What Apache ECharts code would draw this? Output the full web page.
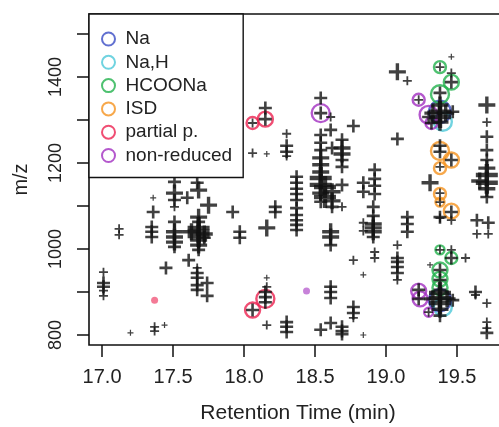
<!DOCTYPE html>
<html>
<head>
<meta charset="utf-8">
<script src="https://cdn.jsdelivr.net/npm/echarts@6/dist/echarts.min.js"></script>
<style>
  html, body { margin: 0; padding: 0; background: #fff; }
  #main { width: 499px; height: 427px; }
</style>
</head>
<body>
<div id="main"></div>
<script>
// retention time (min), m/z, intensity level (1 = weakest .. 5 = strongest)
var crosses = [
  [17.01,946,2],[17.01,921,3],[17.01,912,3],[17.01,903,2],[17.01,891,2],
  [17.12,1047,2],[17.12,1033,2],[17.20,805,1],
  [17.36,1119,1],[17.36,1086,3],[17.35,1051,3],[17.35,1040,3],[17.35,1028,3],
  [17.37,819,2],[17.37,809,2],[17.44,823,1],[17.45,956,3],
  [17.51,1156,3],[17.51,1130,4],[17.51,1114,3],[17.51,1098,2],[17.51,1063,3],
  [17.51,1040,4],[17.51,1028,4],[17.51,1016,4],[17.51,1005,3],
  [17.60,1119,3],[17.61,974,3],[17.67,1154,3],[17.68,1137,4],[17.75,1102,4],
  [17.68,1074,4],[17.68,1063,3],[17.68,1049,5],[17.68,1040,5],[17.68,1030,5],
  [17.68,1021,4],[17.68,1009,4],[17.68,998,3],[17.63,1040,4],[17.72,1035,4],[17.72,1026,3],
  [17.67,956,2],[17.67,944,3],[17.67,933,3],[17.67,916,3],[17.67,905,3],[17.74,921,3],[17.74,891,3],
  [17.92,1086,3],[17.97,1040,3],[17.97,1026,3],
  [18.06,1293,2],[18.15,1302,3],[18.15,1328,3],[18.06,1223,2],[18.16,1221,1],
  [18.30,1268,2],[18.30,1240,3],[18.30,1226,3],[18.30,1216,2],
  [18.16,1049,4],[18.22,1098,3],[18.22,1086,3],
  [18.16,933,1],[18.16,912,2],[18.15,900,3],[18.15,888,3],[18.15,876,3],[18.06,858,3],[18.16,823,2],
  [18.30,830,3],[18.30,819,3],[18.30,807,3],
  [18.37,1168,3],[18.37,1154,3],[18.37,1140,3],[18.37,1128,3],[18.37,1114,3],
  [18.37,1095,3],[18.37,1079,3],[18.37,1067,3],[18.37,1056,3],[18.37,1044,3],
  [18.54,1351,3],[18.54,1316,3],[18.54,1265,3],[18.54,1247,3],[18.54,1230,3],[18.54,1212,4],
  [18.54,1196,4],[18.54,1179,4],[18.54,1165,5],[18.54,1149,5],[18.54,1130,4],[18.54,1110,3],
  [18.61,1307,2],[18.61,1277,3],[18.77,1286,3],[18.62,1235,3],
  [18.69,1254,3],[18.69,1235,4],[18.69,1221,4],[18.69,1207,3],[18.69,1191,3],
  [18.57,1144,5],[18.57,1121,5],[18.62,1133,4],[18.62,1112,4],[18.62,1098,3],[18.69,1149,3],[18.69,1098,2],
  [18.84,1154,3],[18.84,1133,3],[18.92,1184,3],[18.92,1163,3],[18.92,1147,3],[18.92,1128,3],
  [18.61,1040,4],[18.61,1028,4],[18.61,1009,3],
  [18.91,1098,3],[18.91,1077,3],[18.91,1058,4],[18.91,1049,4],[18.91,1040,4],[18.91,1028,3],
  [18.84,1061,2],[18.84,1042,2],[18.77,974,2],[18.84,940,1],[18.92,993,2],[18.92,979,2],
  [18.61,912,3],[18.61,900,3],[18.61,886,3],[18.77,865,3],[18.77,851,3],[18.77,840,2],
  [18.54,812,3],[18.61,828,3],[18.69,819,3],[18.69,809,3],[18.69,802,3],[18.84,800,1],
  [19.08,1412,4],[19.15,1391,2],[19.08,1256,3],
  [19.15,1074,3],[19.15,1058,3],[19.15,1040,3],
  [19.08,1009,2],[19.08,979,3],[19.08,970,3],[19.08,958,3],[19.08,944,3],[19.08,928,2],
  [19.31,1154,4],[19.38,1074,3],
  [19.46,1447,1],[19.46,1409,2],[19.46,1388,3],[19.38,1423,2],[19.38,1363,3],[19.23,1347,2],
  [19.38,1335,4],[19.38,1319,5],[19.38,1307,5],[19.38,1295,4],[19.33,1316,4],[19.42,1316,4],
  [19.47,1319,3],[19.30,1307,3],[19.32,1293,3],
  [19.38,1240,3],[19.38,1226,3],[19.46,1207,3],[19.38,1191,2],[19.38,1130,2],[19.38,1109,2],
  [19.46,1086,3],[19.46,1067,2],[19.38,1072,2],
  [19.38,998,2],[19.46,998,2],[19.46,979,3],[19.56,979,2],[19.31,963,1],
  [19.38,951,3],[19.38,928,3],[19.38,905,3],[19.23,905,3],[19.23,884,3],[19.30,853,2],
  [19.38,898,5],[19.38,886,5],[19.38,874,5],[19.38,860,4],[19.33,884,4],[19.43,884,4],
  [19.47,881,3],[19.38,845,3],
  [19.63,900,3],[19.63,893,2],[19.71,874,2],[19.71,830,2],[19.71,816,2],[19.71,805,3],
  [19.71,1335,4],[19.71,1295,2],[19.71,1261,3],[19.71,1230,3],[19.71,1207,3],[19.71,1188,4],
  [19.71,1172,5],[19.71,1154,5],[19.71,1140,4],[19.71,1121,3],[19.66,1158,4],
  [19.64,1067,3],[19.64,1035,2],[19.72,1061,3],[19.72,1035,2]
];

// annotated peaks: retention time, m/z, intensity level
var naPeaks = [[19.38,1319,5],[19.38,881,5]];
var naHPeaks = [[19.40,1296,4],[19.40,865,4]];
var hcoonaPeaks = [[19.38,1423,2],[19.46,1388,3],[19.38,1360,4],[19.38,998,1],
  [19.46,979,2],[19.38,951,3],[19.38,930,3],[19.38,910,3]];
var isdPeaks = [[19.38,1228,4],[19.46,1207,3],[19.38,1188,2],[19.38,1128,2],[19.38,1109,1],[19.46,1088,3]];
var partialPeaks = [[18.06,1293,2],[18.15,1302,3],[18.06,858,3],[18.15,884,4]];
var partialWeak = [[17.37,881]];
var nonReducedPeaks = [[18.54,1316,4],[19.23,1347,2],[19.30,1312,4],[19.32,1293,2],
  [19.23,902,3],[19.24,884,3],[19.30,853,1]];
var nonReducedWeak = [[18.44,902]];

var xTicks = [17.0, 17.5, 18.0, 18.5, 19.0, 19.5];
var yTicks = [800, 900, 1000, 1100, 1200, 1300, 1400, 1500];
var yLabels = [800, 1000, 1200, 1400];

var crossSizes = [0, 6, 9, 13, 17, 22];
var ringSizes = [0, 9, 12, 15, 18, 22];
var plus = 'path://M4,0H6V4H10V6H6V10H4V6H0V4H4Z';
var font = 'Liberation Sans, Arial, sans-serif';

function ringSeries(name, color, peaks, weak) {
  var data = peaks.map(function (p) { return [p[0], p[1], p[2]]; });
  (weak || []).forEach(function (p) {
    data.push({
      value: [p[0], p[1], 0],
      symbolSize: 7,
      itemStyle: { color: color, opacity: 0.6, borderWidth: 0 }
    });
  });
  return {
    name: name,
    type: 'scatter',
    symbol: 'circle',
    symbolSize: function (v) { return ringSizes[v[2]] || 7; },
    itemStyle: { color: 'rgba(255,255,255,0)', borderColor: color, borderWidth: 2.4 },
    data: data,
    z: 2,
    silent: true
  };
}

var chart = echarts.init(document.getElementById('main'));
chart.setOption({
  animation: false,
  backgroundColor: '#fff',
  grid: {
    left: 89, top: 14, right: -8, bottom: 82,
    outerBoundsMode: 'none',
    show: true, borderColor: '#111', borderWidth: 1.6
  },
  legend: {
    data: ['Na', 'Na,H', 'HCOONa', 'ISD', 'partial p.', 'non-reduced'],
    orient: 'vertical',
    left: 89, top: 14,
    padding: [15.5, 11, 12.5, 12],
    itemWidth: 14, itemHeight: 13, itemGap: 4.3,
    backgroundColor: '#fff',
    borderColor: '#111', borderWidth: 1.4, borderRadius: 0,
    textStyle: { fontFamily: font, fontSize: 19, lineHeight: 19, color: '#222', padding: [0, 0, 0, 5] },
    itemStyle: { borderWidth: 2 },
    z: 10
  },
  xAxis: {
    type: 'value',
    min: 16.908, max: 19.852,
    name: 'Retention Time (min)',
    nameLocation: 'middle', nameGap: 58,
    nameTextStyle: { fontFamily: font, fontSize: 21, color: '#222' },
    axisLine: { show: false },
    axisTick: { customValues: xTicks, length: 12, lineStyle: { color: '#111', width: 1.5 } },
    axisLabel: {
      customValues: xTicks, margin: 22,
      fontFamily: font, fontSize: 20, color: '#222',
      formatter: function (v) { return v.toFixed(1); }
    },
    splitLine: { show: false }
  },
  yAxis: {
    type: 'value',
    min: 776.7, max: 1546.5,
    name: 'm/z',
    nameLocation: 'middle', nameGap: 58,
    nameTextStyle: { fontFamily: font, fontSize: 20, color: '#222' },
    axisLine: { show: false },
    axisTick: { customValues: yTicks, length: 12, lineStyle: { color: '#111', width: 1.5 } },
    axisLabel: {
      customValues: yLabels, rotate: 90, margin: 24,
      fontFamily: font, fontSize: 18, color: '#222',
      formatter: function (v) { return String(v); }
    },
    splitLine: { show: false }
  },
  series: [
    ringSeries('Na,H', '#4cc8d8', naHPeaks),
    ringSeries('Na', '#3a4cc4', naPeaks),
    ringSeries('HCOONa', '#22b24c', hcoonaPeaks),
    ringSeries('ISD', '#f5921e', isdPeaks),
    ringSeries('partial p.', '#ec2250', partialPeaks, partialWeak),
    ringSeries('non-reduced', '#a12ec0', nonReducedPeaks, nonReducedWeak),
    {
      name: 'peaks',
      type: 'scatter',
      symbol: plus,
      symbolSize: function (v) { return crossSizes[v[2]]; },
      itemStyle: { color: '#111' },
      data: crosses,
      z: 3,
      silent: true
    }
  ]
});
</script>
</body>
</html>
